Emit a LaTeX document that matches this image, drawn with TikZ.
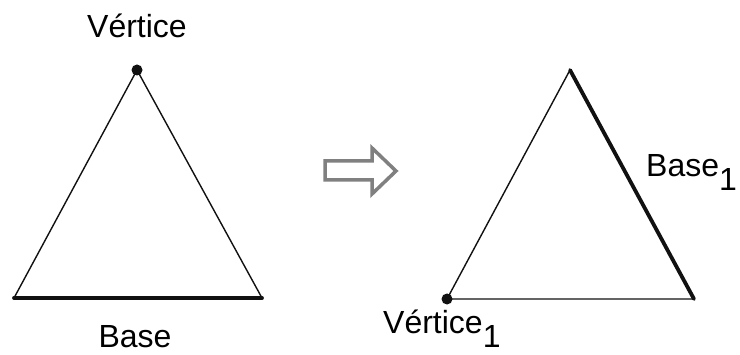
\documentclass[tikz,border=0pt]{standalone}
\usepackage{fontspec}
\setmainfont{Liberation Sans}
\usetikzlibrary{positioning}
\definecolor{trEdge}{HTML}{111111}
\definecolor{trArrow}{HTML}{808080}
\tikzset{
  trThin/.style={draw=trEdge, line width=1.4pt, line join=round},
  trThick/.style={draw=trEdge, line width=3.8pt, line cap=round},
  trDot/.style={circle, fill=trEdge, inner sep=0pt, minimum size=11pt},
  trLabel/.style={font=\fontsize{32}{32}\selectfont, inner sep=0pt, text=black},
  trHollow/.style={draw=trArrow, line width=3.5pt, fill=white, line join=miter},
}
\newcommand{\trsub}[1]{\raisebox{-0.42em}{#1}}

\begin{document}
\begin{tikzpicture}[x=1pt, y=1pt]
  \useasboundingbox (0,0) rectangle (740,354);

  % ─── Left triangle: vertex on top, base at the bottom ─────────────────────────
  \coordinate (v0) at (137,284);
  \coordinate (b0l) at (14,56);
  \coordinate (b0r) at (262,56);
  \draw[trThin] (b0l) -- (v0) -- (b0r);
  \draw[trThick] (b0l) -- (b0r);
  \node[trDot] (v0dot) at (v0) {};
  \node[trLabel, anchor=base] (v0lab) at (137,316) {Vértice};
  \node[trLabel, anchor=base] (b0lab) at (135,7) {Base};

  % ─── Hollow arrow between the two ─────────────────────────────────────────────
  \coordinate (arTip) at (396,183);
  \draw[trHollow] (325,193) -- (372,193) -- (372,206) -- (arTip)
                  -- (372,160) -- (372,174) -- (325,174) -- cycle;

  % ─── Right triangle: rotated, new base on the right side ──────────────────────
  \coordinate (v1) at (447,55);
  \coordinate (b1t) at (570,284);
  \coordinate (b1b) at (694,55);
  \draw[trThin] (b1b) -- (v1) -- (b1t);
  \draw[trThick] (b1t) -- (b1b);
  \node[trDot] (v1dot) at (v1) {};
  \node[trLabel, anchor=base west] (b1lab) at (646,177) {Base\trsub{1}};
  \node[trLabel, anchor=base west] (v1lab) at (383,20) {Vértice\trsub{1}};

\end{tikzpicture}
\end{document}
